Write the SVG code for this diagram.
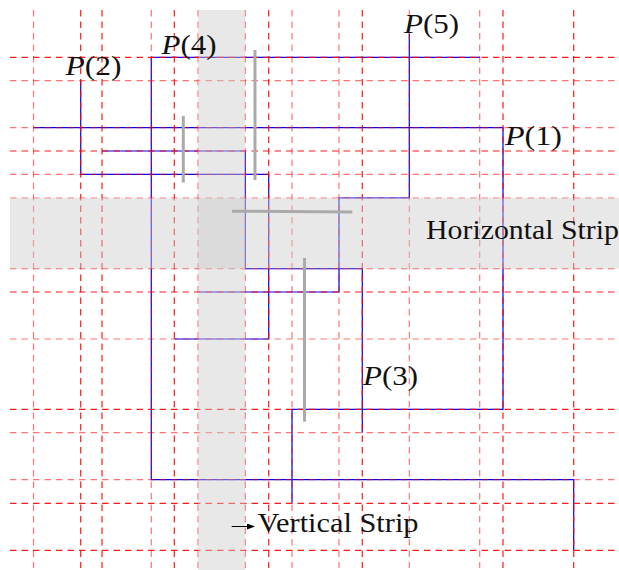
<svg xmlns="http://www.w3.org/2000/svg" width="619" height="570" viewBox="0 0 619 570">
<defs>
<marker id="ah" markerWidth="8" markerHeight="6" refX="7" refY="3" orient="auto" markerUnits="userSpaceOnUse">
<path d="M0,0 L8,3 L0,6 Z" fill="#000"/>
</marker>
<style>
.path{fill:none;stroke:#0000ff;stroke-width:1.2}
.gd{stroke:#ff0000;stroke-width:1.2;stroke-dasharray:6.5 5;stroke-opacity:0.9;fill:none}
.gl{stroke:#ff0000;stroke-width:1.2;stroke-dasharray:6.5 5;stroke-opacity:0.55;fill:none}
.strip{fill:#cccccc;fill-opacity:0.45}
.seg{stroke:#aaaaaa;stroke-width:3;fill:none}
.lbl{font-family:"Liberation Serif","DejaVu Serif",serif;font-size:27px;fill:#111}
</style>
</defs>
<rect width="619" height="570" fill="#fff"/>
<g id="connectors">
<polyline id="P1" class="path" points="33.5,127.7 503,127.7 503,409.3 292,409.3 292,503.3"/>
<polyline id="P2" class="path" points="80.7,80.7 80.7,174.3 268.7,174.3 268.7,339 174.3,339"/>
<polyline id="P3" class="path" points="362.3,432.7 362.3,268.7 245.3,268.7 245.3,151 102,151"/>
<polyline id="P4" class="path" points="479.7,57.3 151.3,57.3 151.3,479.7 573.7,479.7 573.7,550.3"/>
<polyline id="P5" class="path" points="409.3,33.5 409.3,198 339,198 339,292 198,292"/>
</g>
<g id="grid">
<line class="gl" x1="33.5" y1="10" x2="33.5" y2="568"/>
<line class="gd" x1="80.7" y1="10" x2="80.7" y2="568"/>
<line class="gd" x1="102" y1="10" x2="102" y2="568"/>
<line class="gl" x1="151.3" y1="10" x2="151.3" y2="568"/>
<line class="gd" x1="174.3" y1="10" x2="174.3" y2="568"/>
<line class="gl" x1="198" y1="10" x2="198" y2="568"/>
<line class="gl" x1="245.3" y1="10" x2="245.3" y2="568"/>
<line class="gd" x1="268.7" y1="10" x2="268.7" y2="568"/>
<line class="gl" x1="292" y1="10" x2="292" y2="568"/>
<line class="gl" x1="339" y1="10" x2="339" y2="568"/>
<line class="gd" x1="362.3" y1="10" x2="362.3" y2="568"/>
<line class="gl" x1="409.3" y1="10" x2="409.3" y2="568"/>
<line class="gl" x1="479.7" y1="10" x2="479.7" y2="568"/>
<line class="gd" x1="503" y1="10" x2="503" y2="568"/>
<line class="gd" x1="573.7" y1="10" x2="573.7" y2="568"/>
<line class="gd" x1="10" y1="57.3" x2="615" y2="57.3"/>
<line class="gl" x1="10" y1="80.7" x2="615" y2="80.7"/>
<line class="gl" x1="10" y1="127.7" x2="615" y2="127.7"/>
<line class="gd" x1="10" y1="151" x2="615" y2="151"/>
<line class="gl" x1="10" y1="174.3" x2="615" y2="174.3"/>
<line class="gl" x1="10" y1="198" x2="615" y2="198"/>
<line class="gl" x1="10" y1="268.7" x2="615" y2="268.7"/>
<line class="gd" x1="10" y1="292" x2="615" y2="292"/>
<line class="gl" x1="10" y1="339" x2="615" y2="339"/>
<line class="gd" x1="10" y1="409.3" x2="615" y2="409.3"/>
<line class="gl" x1="10" y1="432.7" x2="615" y2="432.7"/>
<line class="gl" x1="10" y1="479.7" x2="615" y2="479.7"/>
<line class="gd" x1="10" y1="503.3" x2="615" y2="503.3"/>
<line class="gd" x1="10" y1="550.3" x2="615" y2="550.3"/>
</g>
<g id="strips">
<rect id="vstrip" class="strip" x="198" y="10" width="47.3" height="560"/>
<rect id="hstrip" class="strip" x="10" y="198" width="609" height="70.7"/>
</g>
<g id="segments">
<line class="seg" x1="183.3" y1="116" x2="183.3" y2="182.5"/>
<line class="seg" x1="255" y1="50" x2="255" y2="180"/>
<line class="seg" x1="232" y1="211.2" x2="352.3" y2="212"/>
<line class="seg" x1="304.5" y1="258" x2="304.5" y2="421.7"/>
</g>
<g id="labels">
<text id="lP1" class="lbl" x="505" y="145" textLength="57" lengthAdjust="spacingAndGlyphs"><tspan font-style="italic">P</tspan>(1)</text>
<text id="lP2" class="lbl" x="65.5" y="74.5" textLength="56" lengthAdjust="spacingAndGlyphs"><tspan font-style="italic">P</tspan>(2)</text>
<text id="lP3" class="lbl" x="363" y="385" textLength="55" lengthAdjust="spacingAndGlyphs"><tspan font-style="italic">P</tspan>(3)</text>
<text id="lP4" class="lbl" x="161.5" y="54" textLength="55" lengthAdjust="spacingAndGlyphs"><tspan font-style="italic">P</tspan>(4)</text>
<text id="lP5" class="lbl" x="404" y="32.5" textLength="55" lengthAdjust="spacingAndGlyphs"><tspan font-style="italic">P</tspan>(5)</text>
<text id="lH" class="lbl" x="426" y="238.5" textLength="193" lengthAdjust="spacingAndGlyphs">Horizontal Strip</text>
<text id="lV" class="lbl" x="257.5" y="531.5" textLength="161" lengthAdjust="spacingAndGlyphs">Vertical Strip</text>
</g>
<g id="arrow">
<line x1="231.7" y1="526.5" x2="254" y2="526.5" stroke="#000" stroke-width="1" marker-end="url(#ah)"/>
</g>
</svg>
